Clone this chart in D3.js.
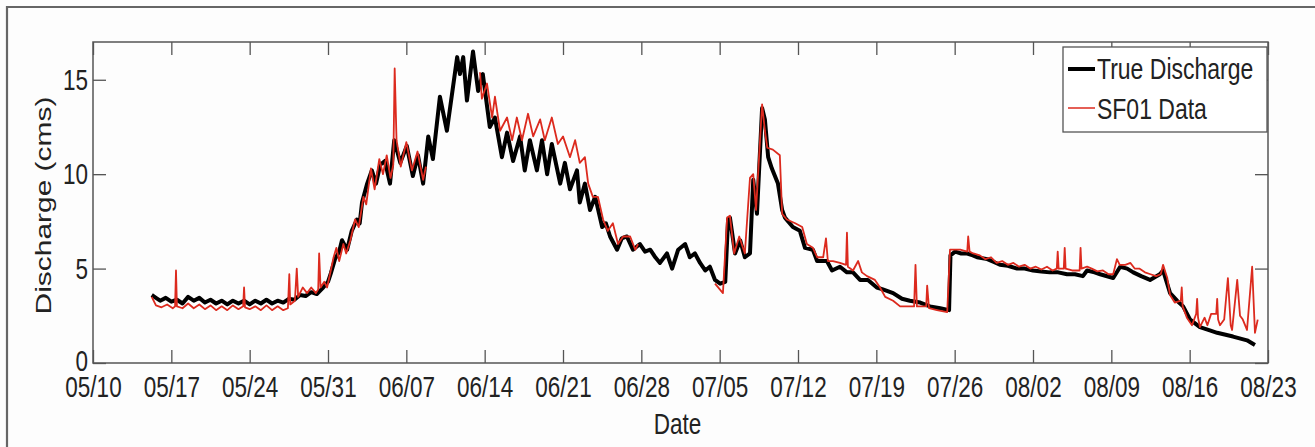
<!DOCTYPE html>
<html>
<head>
<meta charset="utf-8">
<script src="https://cdn.jsdelivr.net/npm/d3@7"></script>
<style>
  html, body { margin: 0; padding: 0; background: #fff; }
  svg { display: block; }
  text { font-family: "Liberation Sans", Arial, Helvetica, sans-serif; fill: #222; }
</style>
</head>
<body>
<script>
// tick labels
var xTickLabels = ['05/10', '05/17', '05/24', '05/31', '06/07', '06/14', '06/21', '06/28',
                   '07/05', '07/12', '07/19', '07/26', '08/02', '08/09', '08/16', '08/23'];
var yTickValues = [0, 5, 10, 15];
var seriesNames = ['True Discharge', 'SF01 Data'];

// True Discharge, [time, cms]
var trueDischarge = [
  ['05/15 06',3.6],['05/15 15',3.45],['05/16 00',3.3],['05/16 12',3.45],['05/17 00',3.25],['05/17 12',3.35],
  ['05/18 00',3.15],['05/18 12',3.5],['05/19 00',3.3],['05/19 12',3.45],['05/20 00',3.2],['05/20 12',3.35],
  ['05/21 00',3.15],['05/21 12',3.3],['05/22 00',3.1],['05/22 12',3.3],['05/23 00',3.15],['05/23 12',3.3],
  ['05/24 00',3.1],['05/24 12',3.3],['05/25 00',3.15],['05/25 12',3.35],['05/26 00',3.15],['05/26 12',3.3],
  ['05/27 00',3.2],['05/27 12',3.4],['05/28 00',3.35],['05/28 12',3.6],['05/29 00',3.55],['05/29 12',3.75],
  ['05/30 00',3.65],['05/30 12',3.95],['05/31 00',4.3],['05/31 06',4.75],['05/31 15',5.5],['06/01 00',5.9],
  ['06/01 06',6.5],['06/01 17',6.0],['06/02 03',7.0],['06/02 14',7.6],['06/02 20',7.4],['06/03 01',8.5],
  ['06/03 12',9.5],['06/03 22',10.2],['06/04 07',9.5],['06/04 16',10.5],['06/05 02',10.7],['06/05 13',9.5],
  ['06/05 22',11.8],['06/06 11',10.6],['06/07 01',11.5],['06/07 14',9.9],['06/08 01',11.0],['06/08 12',9.5],
  ['06/08 23',12.0],['06/09 09',10.8],['06/10 00',14.1],['06/10 15',12.3],['06/11 13',16.2],['06/11 19',15.3],
  ['06/12 02',16.2],['06/12 10',13.9],['06/12 23',16.5],['06/13 10',14.4],['06/13 20',15.3],['06/14 11',12.5],
  ['06/14 22',13.0],['06/15 13',10.9],['06/16 00',12.2],['06/16 13',10.7],['06/17 04',12.0],['06/17 14',10.2],
  ['06/18 01',11.8],['06/18 16',10.2],['06/19 03',11.8],['06/19 14',10.0],['06/20 00',11.6],['06/20 18',9.5],
  ['06/21 04',10.6],['06/21 15',9.2],['06/22 06',10.2],['06/22 12',8.5],['06/22 23',9.5],['06/23 10',8.1],
  ['06/23 21',8.8],['06/24 12',7.2],['06/24 20',7.4],['06/25 05',6.7],['06/25 20',6.0],['06/26 06',6.6],
  ['06/26 17',6.7],['06/27 06',6.0],['06/27 21',6.3],['06/28 08',5.9],['06/28 19',6.0],['06/29 06',5.6],
  ['06/29 16',5.3],['06/30 07',5.8],['06/30 18',5.0],['07/01 07',6.0],['07/01 22',6.3],['07/02 08',5.6],
  ['07/02 19',5.8],['07/03 06',5.3],['07/03 17',4.9],['07/04 03',5.1],['07/04 14',4.4],['07/05 01',4.2],
  ['07/05 12',4.3],['07/05 18',7.6],['07/05 22',7.7],['07/06 09',5.8],['07/06 20',6.5],['07/07 06',5.6],
  ['07/07 17',5.8],['07/08 00',9.7],['07/08 08',7.9],['07/08 19',13.5],['07/09 01',12.9],['07/09 08',10.9],
  ['07/09 16',10.3],['07/10 05',9.5],['07/10 14',8.1],['07/10 20',7.7],['07/11 13',7.2],['07/12 04',7.0],
  ['07/12 15',6.1],['07/13 08',6.0],['07/13 17',5.4],['07/14 14',5.4],['07/15 01',4.9],['07/15 18',5.1],
  ['07/16 09',4.8],['07/16 22',4.8],['07/17 13',4.4],['07/18 06',4.4],['07/19 01',4.0],['07/19 14',3.9],
  ['07/20 12',3.7],['07/21 07',3.4],['07/22 00',3.3],['07/22 22',3.2],['07/23 19',3.0],['07/24 17',2.9],
  ['07/25 12',2.8],['07/25 15',5.7],['07/26 01',5.9],['07/26 14',5.8],['07/27 03',5.8],['07/27 15',5.7],
  ['07/28 00',5.6],['07/28 22',5.5],['07/29 12',5.35],['07/30 01',5.2],['07/30 18',5.15],['07/31 14',5.0],
  ['08/01 06',5.0],['08/02 00',4.9],['08/02 18',4.85],['08/03 12',4.8],['08/04 06',4.8],['08/05 01',4.7],
  ['08/05 18',4.7],['08/06 11',4.6],['08/06 20',4.9],['08/07 12',4.8],['08/08 00',4.7],['08/09 04',4.5],
  ['08/09 19',5.1],['08/10 10',5.0],['08/10 23',4.8],['08/11 16',4.6],['08/12 11',4.4],['08/13 08',4.7],
  ['08/13 15',4.9],['08/14 06',3.7],['08/14 21',3.3],['08/15 10',3.0],['08/16 01',2.3],['08/16 22',1.9],
  ['08/17 16',1.75],['08/18 11',1.6],['08/19 21',1.4],['08/21 03',1.2],['08/21 20',0.95]
];

// SF01 Data, null = no data
var sf01Data = [
  ['05/15 06',3.5],['05/15 15',3.05],['05/16 03',2.95],['05/16 15',3.1],['05/17 03',2.9],['05/17 08',3.0],
  ['05/17 10',4.9],['05/17 12',3.0],['05/18 00',2.9],['05/18 12',3.15],['05/19 00',2.9],['05/19 12',3.1],
  ['05/20 00',2.85],['05/20 12',3.05],['05/21 00',2.8],['05/21 12',3.0],['05/22 00',2.8],['05/22 12',3.05],
  ['05/23 00',2.85],['05/23 10',3.0],['05/23 12',4.0],['05/23 14',2.95],['05/24 00',2.85],['05/24 12',3.0],
  ['05/25 00',2.8],['05/25 12',3.05],['05/26 00',2.8],['05/26 12',3.0],['05/27 00',2.8],['05/27 10',2.9],
  ['05/27 13',4.7],['05/27 15',3.1],['05/28 01',3.3],['05/28 05',5.0],['05/28 08',3.5],['05/28 18',4.0],
  ['05/29 03',3.7],['05/29 12',4.0],['05/29 22',3.7],['05/30 03',3.9],['05/30 05',5.8],['05/30 08',4.0],
  ['05/30 16',4.3],['05/30 22',4.0],['05/31 06',4.9],['05/31 12',5.6],['05/31 18',6.1],['06/01 00',5.4],
  ['06/01 09',6.3],['06/01 15',5.8],['06/02 00',6.5],['06/02 10',7.6],['06/02 18',7.2],['06/03 04',8.8],
  ['06/03 10',8.4],['06/03 20',10.3],['06/04 04',9.2],['06/04 14',10.8],['06/04 22',10.0],['06/05 06',11.0],
  ['06/05 14',9.8],['06/05 20',10.5],['06/05 23',15.6],['06/06 03',11.8],['06/06 12',10.4],['06/07 00',11.7],
  ['06/07 12',10.2],['06/08 00',11.2],['06/08 12',9.7],['06/08 18',10.4],['06/10 00',null],
  ['06/13 14',15.4],['06/13 18',14.0],['06/14 05',14.8],['06/14 16',13.0],['06/14 22',14.1],['06/15 09',12.3],
  ['06/16 00',13.0],['06/16 11',11.8],['06/16 21',13.0],['06/17 08',11.8],['06/17 21',13.2],['06/18 08',12.0],
  ['06/18 23',12.9],['06/19 09',11.8],['06/20 00',13.0],['06/20 13',11.6],['06/21 00',12.0],['06/21 15',10.9],
  ['06/22 02',11.8],['06/22 12',10.6],['06/22 23',10.9],['06/23 06',9.5],['06/23 16',8.8],['06/24 03',8.8],
  ['06/24 14',7.6],['06/25 00',7.0],['06/25 11',7.4],['06/25 22',6.3],['06/26 09',6.7],['06/27 00',6.7],
  ['06/27 11',6.0],['06/27 17',6.3],['06/30 00',null],
  ['07/04 14',4.2],['07/05 07',3.7],['07/05 16',7.7],['07/05 22',7.8],['07/06 07',5.8],['07/06 18',6.7],
  ['07/07 06',5.8],['07/07 17',9.8],['07/08 00',10.0],['07/08 06',8.1],['07/08 19',13.7],['07/09 01',12.3],
  ['07/09 06',11.4],['07/09 18',11.3],['07/10 09',11.0],['07/10 14',7.9],['07/11 00',7.6],['07/11 18',7.4],
  ['07/12 09',7.2],['07/12 19',6.3],['07/13 08',6.1],['07/13 17',5.6],['07/14 06',5.6],['07/14 12',6.6],
  ['07/14 16',5.4],['07/15 03',5.4],['07/15 18',5.3],['07/16 07',5.2],['07/16 09',6.9],['07/16 11',5.1],
  ['07/16 22',4.9],['07/17 09',5.4],['07/17 17',4.8],['07/18 04',4.6],['07/18 21',4.4],['07/19 08',4.0],
  ['07/19 19',3.5],['07/20 12',3.3],['07/21 03',3.0],['07/22 00',3.0],['07/22 09',3.0],['07/22 12',5.2],
  ['07/22 15',3.0],['07/23 02',3.0],['07/23 11',3.0],['07/23 13',4.1],['07/23 17',2.9],['07/24 10',2.8],
  ['07/25 08',2.7],['07/25 14',6.0],['07/26 12',6.0],['07/27 03',5.9],['07/27 05',6.7],['07/27 08',5.9],
  ['07/27 16',5.8],['07/28 06',5.7],['07/28 18',5.5],['07/29 06',5.6],['07/29 18',5.3],['07/30 06',5.4],
  ['07/30 18',5.2],['07/31 06',5.3],['07/31 18',5.1],['08/01 06',5.2],['08/01 18',5.0],['08/02 06',5.1],
  ['08/02 18',4.95],['08/03 06',5.1],['08/03 18',4.9],['08/04 03',5.0],['08/04 05',5.9],['08/04 07',5.0],
  ['08/04 18',5.0],['08/04 20',6.1],['08/04 22',5.0],['08/05 12',4.9],['08/06 04',4.9],['08/06 06',6.1],
  ['08/06 08',5.0],['08/06 20',5.1],['08/07 06',5.0],['08/07 18',4.85],['08/08 06',4.9],['08/08 18',4.7],
  ['08/09 04',4.7],['08/09 12',5.5],['08/09 18',5.2],['08/10 06',5.2],['08/10 17',5.3],['08/11 02',5.0],
  ['08/11 12',5.0],['08/12 00',4.8],['08/12 12',4.7],['08/13 00',4.6],['08/13 10',4.7],['08/13 15',5.2],
  ['08/13 20',4.8],['08/14 00',4.5],['08/14 06',3.6],['08/14 16',3.2],['08/15 05',3.3],['08/15 07',4.0],
  ['08/15 09',3.0],['08/15 18',2.4],['08/16 05',2.0],['08/16 14',2.6],['08/16 16',3.4],['08/16 18',2.4],
  ['08/16 22',1.9],['08/17 08',2.4],['08/17 14',2.0],['08/17 22',2.6],['08/18 09',2.6],['08/18 11',3.4],
  ['08/18 13',2.3],['08/18 17',2.0],['08/19 02',2.3],['08/19 10',4.5],['08/19 16',2.0],['08/19 19',1.75],
  ['08/20 06',4.4],['08/20 12',2.5],['08/20 18',2.3],['08/21 03',1.75],['08/21 14',5.1],['08/21 20',1.6],
  ['08/22 02',2.3]
];

var width = 1315, height = 447;
var margin = { top: 42, right: 47, bottom: 84, left: 93 };
var stretch = 1.33;   // the picture's text is taller than it is wide

var parseTime = d3.timeParse('%m/%d %H'),
    parseDay = d3.timeParse('%m/%d');

var svg = d3.select('body').append('svg')
    .attr('width', width)
    .attr('height', height);

svg.append('rect').attr('width', width).attr('height', height).attr('fill', '#fdfdfd');

// outer frame, only top and left show in the crop
svg.append('path')
    .attr('d', 'M7,' + height + 'V7H' + width)
    .attr('fill', 'none')
    .attr('stroke', '#666')
    .attr('stroke-width', 2.2);

var x = d3.scaleTime()
    .domain([parseDay(xTickLabels[0]), parseDay(xTickLabels[xTickLabels.length - 1])])
    .range([margin.left, width - margin.right]);

var y = d3.scaleLinear()
    .domain([0, 17])
    .range([height - margin.bottom, margin.top]);

var x0 = margin.left, x1 = width - margin.right,
    y0 = height - margin.bottom, y1 = margin.top;

var tickDates = xTickLabels.map(parseDay);
var tickLen = 13;

// bottom axis with labels
var gx = svg.append('g')
    .attr('transform', 'translate(0,' + y0 + ')')
    .call(d3.axisBottom(x).tickValues(tickDates).tickFormat(d3.timeFormat('%m/%d'))
        .tickSizeInner(-tickLen).tickSizeOuter(0).tickPadding(0));
gx.selectAll('text')
    .attr('y', 12.5 / stretch)
    .attr('transform', 'scale(1,' + stretch + ')')
    .style('font-size', '22.5px');

// top axis, ticks only
svg.append('g')
    .attr('transform', 'translate(0,' + y1 + ')')
    .call(d3.axisTop(x).tickValues(tickDates).tickFormat('')
        .tickSizeInner(-tickLen).tickSizeOuter(0));

// left axis with labels, stretched about the tick itself
var gy = svg.append('g')
    .attr('transform', 'translate(' + x0 + ',0)')
    .call(d3.axisLeft(y).tickValues(yTickValues)
        .tickSizeInner(-tickLen).tickSizeOuter(0).tickPadding(5));
gy.selectAll('text')
    .attr('transform', 'scale(1,' + stretch + ')')
    .style('font-size', '22.5px');
// lift the 0 a touch so it clears the 05/10 below it
gy.selectAll('text').filter(function(d) { return d === 0; })
    .attr('y', -1.5);

// right axis, ticks only
svg.append('g')
    .attr('transform', 'translate(' + x1 + ',0)')
    .call(d3.axisRight(y).tickValues(yTickValues).tickFormat('')
        .tickSizeInner(-tickLen).tickSizeOuter(0));

svg.selectAll('.domain').remove();
svg.selectAll('.tick line').attr('stroke', '#555').attr('stroke-width', 1.3);

// plot box
svg.append('rect')
    .attr('x', x0).attr('y', y1)
    .attr('width', x1 - x0).attr('height', y0 - y1)
    .attr('fill', 'none')
    .attr('stroke', '#555')
    .attr('stroke-width', 1.5);

var line = d3.line()
    .defined(function(d) { return d[1] != null; })
    .x(function(d) { return x(parseTime(d[0])); })
    .y(function(d) { return y(d[1]); });

svg.append('path')
    .datum(trueDischarge)
    .attr('d', line)
    .attr('fill', 'none')
    .attr('stroke', '#000')
    .attr('stroke-width', 4)
    .attr('stroke-linejoin', 'round');

svg.append('path')
    .datum(sf01Data)
    .attr('d', line)
    .attr('fill', 'none')
    .attr('stroke', '#dc2a1e')
    .attr('stroke-width', 1.8)
    .attr('stroke-linejoin', 'round');

// axis titles
svg.append('text')
    .attr('transform', 'translate(' + ((x0 + x1) / 2 - 3) + ',424) scale(1,' + stretch + ')')
    .attr('text-anchor', 'middle')
    .attr('dominant-baseline', 'central')
    .style('font-size', '22.5px')
    .text('Date');

svg.append('text')
    .attr('transform', 'translate(43,' + ((y0 + y1) / 2 + 3) + ') scale(1,' + stretch + ') rotate(-90)')
    .attr('text-anchor', 'middle')
    .attr('dominant-baseline', 'central')
    .style('font-size', '22.5px')
    .text('Discharge (cms)');

// legend
var legend = svg.append('g');
legend.append('rect')
    .attr('x', 1063).attr('y', 47)
    .attr('width', 204).attr('height', 85)
    .attr('fill', '#fff')
    .attr('stroke', '#555')
    .attr('stroke-width', 1.3);

var legendStyles = [
  { color: '#000', w: 4, ly: 69, ty: 79 },
  { color: '#dc2a1e', w: 1.5, ly: 108, ty: 119 }
];
seriesNames.forEach(function(name, i) {
  var s = legendStyles[i];
  legend.append('line')
      .attr('x1', 1068).attr('x2', 1095)
      .attr('y1', s.ly).attr('y2', s.ly)
      .attr('stroke', s.color)
      .attr('stroke-width', s.w);
  legend.append('text')
      .attr('transform', 'translate(1097,' + s.ty + ') scale(1,1.3)')
      .style('font-size', '23px')
      .text(name);
});
</script>
</body>
</html>
